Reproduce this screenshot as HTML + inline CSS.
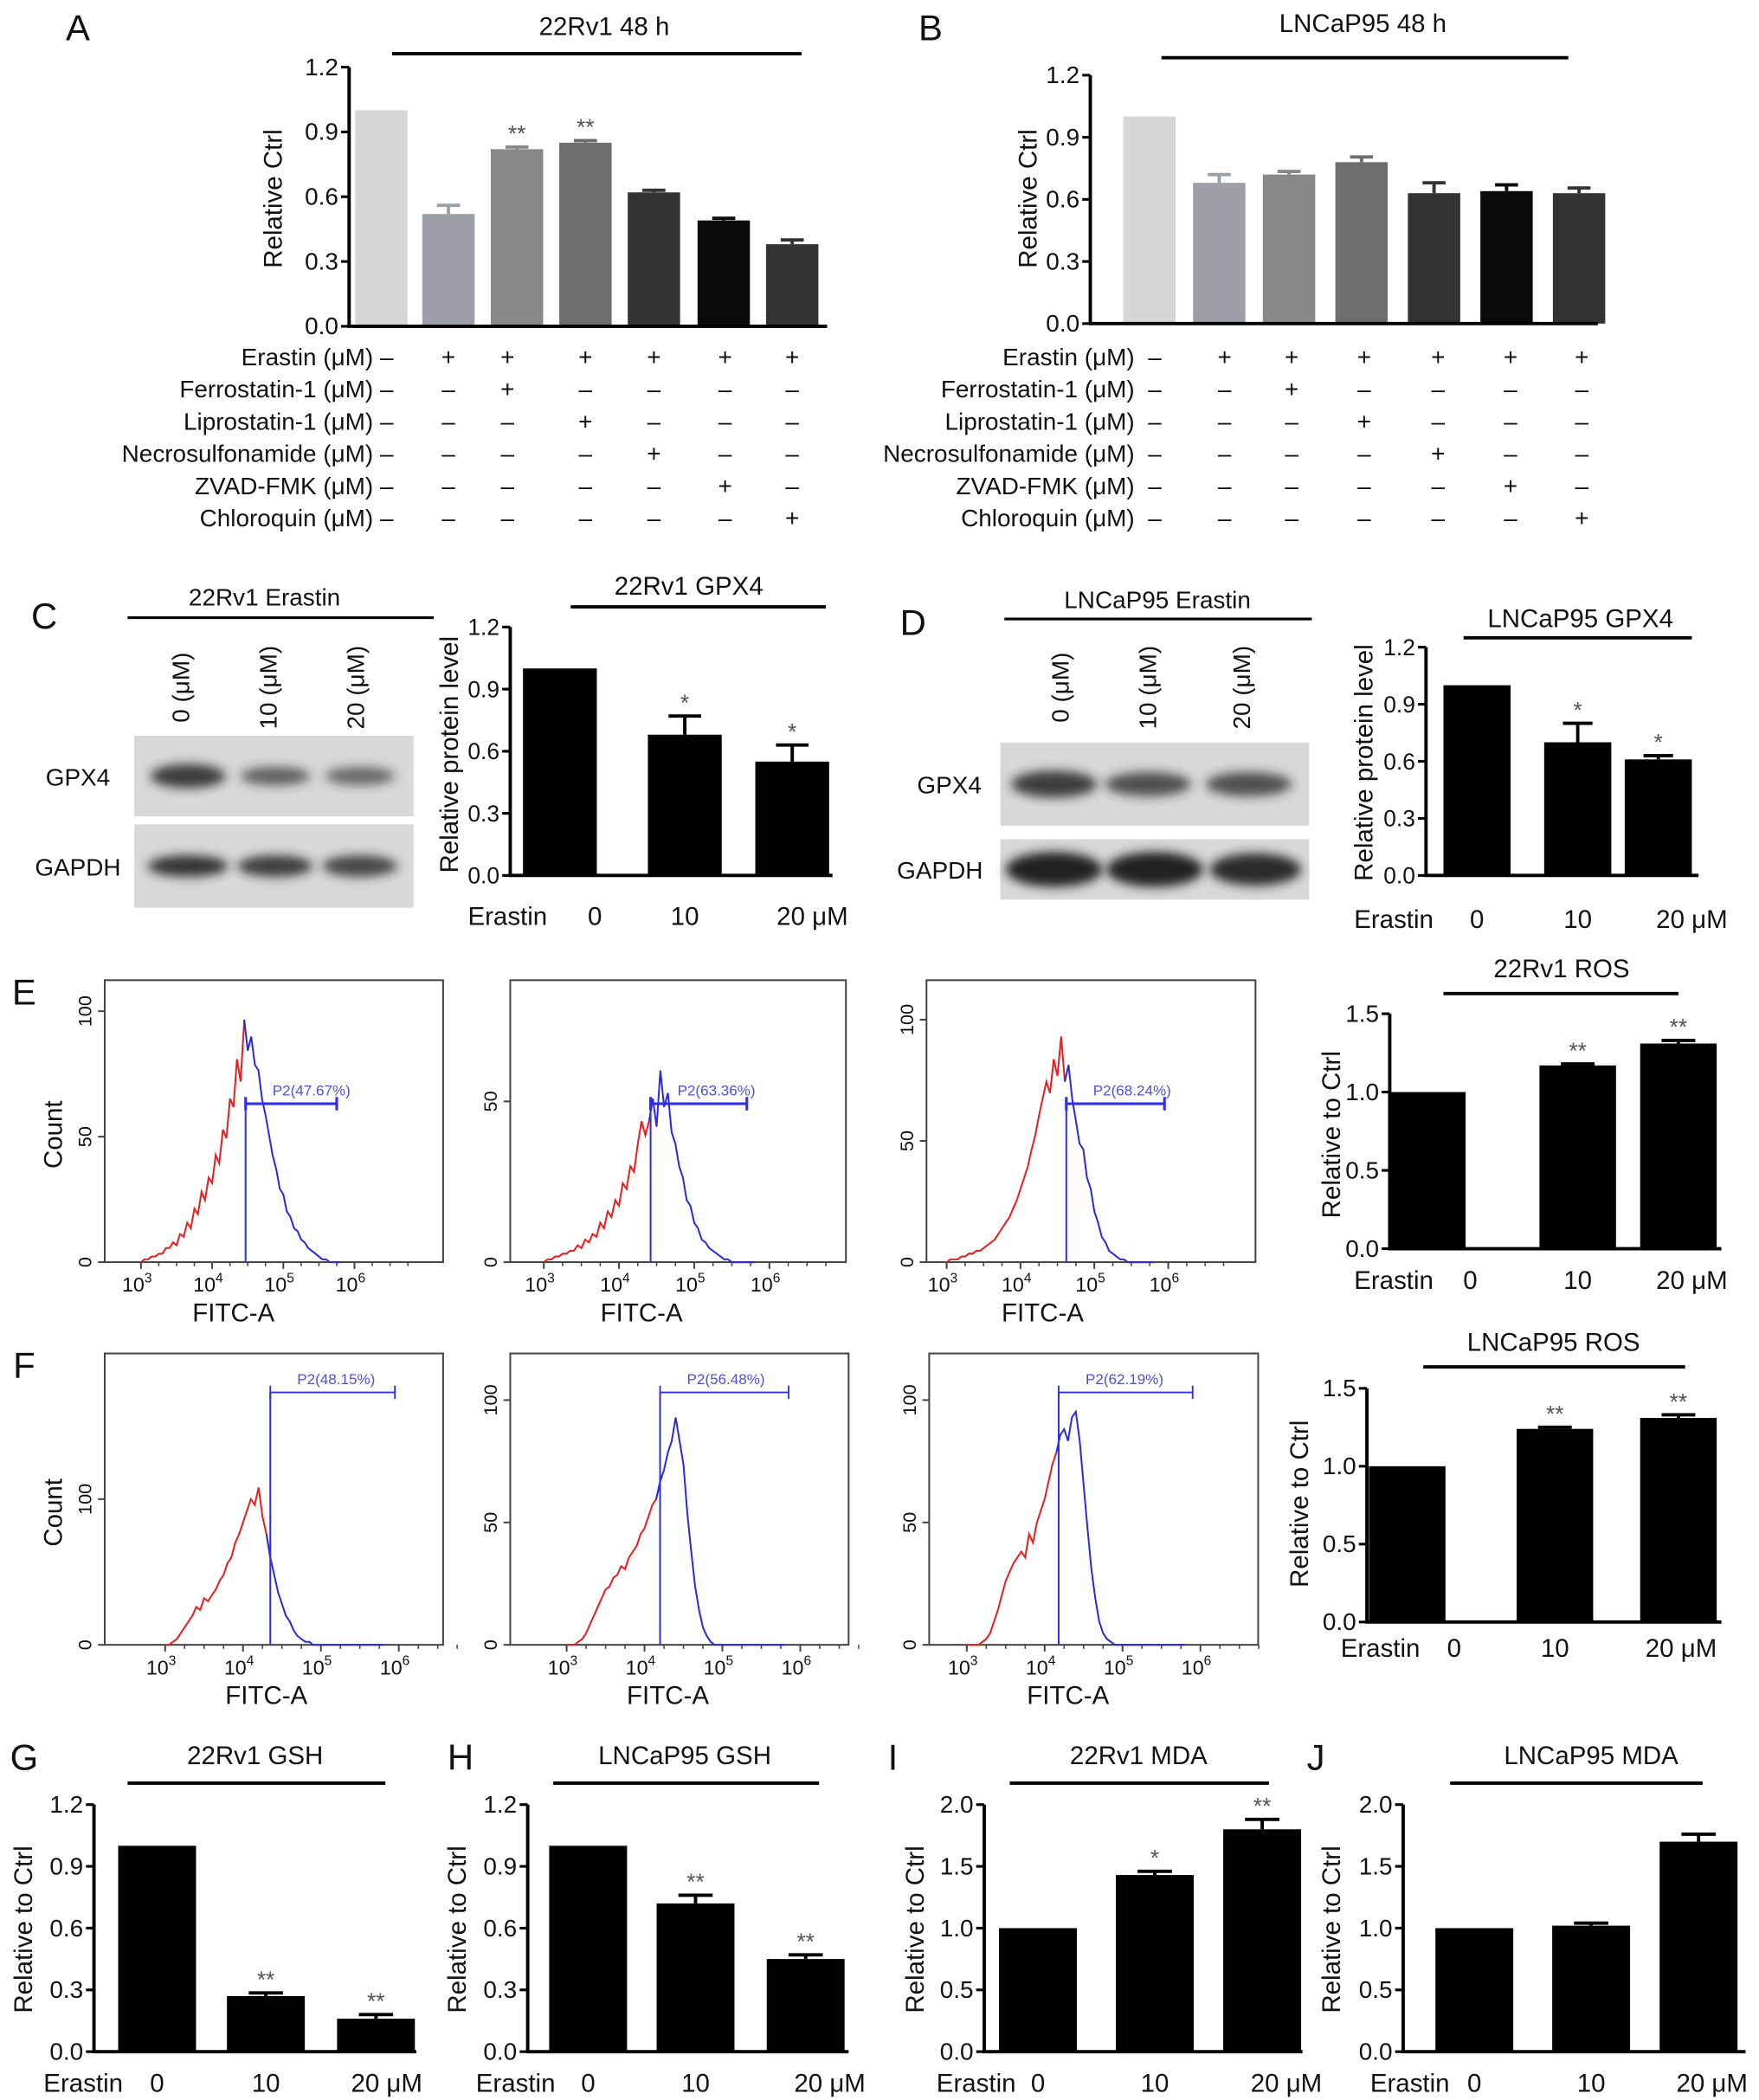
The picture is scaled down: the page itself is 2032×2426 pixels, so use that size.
<!DOCTYPE html>
<html><head><meta charset="utf-8">
<style>
html,body{margin:0;padding:0;background:#fff;}
svg{display:block;font-family:"Liberation Sans",Arial,sans-serif;}
</style></head>
<body>
<svg id="fig" width="2032" height="2426" viewBox="0 0 1310 1564" preserveAspectRatio="none" xmlns="http://www.w3.org/2000/svg">
<defs>
<filter id="blur" x="-20%" y="-50%" width="140%" height="200%"><feGaussianBlur stdDeviation="4"/></filter>
</defs>
<g id="root"></g>
</svg>
<script>
// ===== Panel A data =====
const aValues = [1.0, 0.52, 0.82, 0.85, 0.62, 0.49, 0.38];
const aErrors = [0, 0.04, 0.01, 0.01, 0.01, 0.01, 0.02];
const aStars = ["", "", "**", "**", "", "", ""];
const aTicks = [0, 0.3, 0.6, 0.9, 1.2];
const aTickLabels = ["0.0", "0.3", "0.6", "0.9", "1.2"];
// ===== Panel B data =====
const bValues = [1.0, 0.68, 0.72, 0.78, 0.63, 0.64, 0.63];
const bErrors = [0, 0.04, 0.015, 0.025, 0.05, 0.03, 0.025];
const bStars = ["", "", "", "", "", "", ""];
// treatment table
const treatRows = ["Erastin (μM)", "Ferrostatin-1 (μM)", "Liprostatin-1 (μM)", "Necrosulfonamide (μM)", "ZVAD-FMK (μM)", "Chloroquin (μM)"];
const treatSigns = [
  ["–","+","+","+","+","+","+"],
  ["–","–","+","–","–","–","–"],
  ["–","–","–","+","–","–","–"],
  ["–","–","–","–","+","–","–"],
  ["–","–","–","–","–","+","–"],
  ["–","–","–","–","–","–","+"]
];
// ===== GPX4 =====
const gpxCategories = ["0", "10", "20 μM"];
const cValues = [1.0, 0.68, 0.55];
const cErrors = [0, 0.09, 0.08];
const cStars = ["", "*", "*"];
const dValues = [1.0, 0.70, 0.61];
const dErrors = [0, 0.10, 0.02];
const dStars = ["", "*", "*"];
// ===== ROS =====
const rosTicks = [0, 0.5, 1.0, 1.5];
const rosTickLabels = ["0.0", "0.5", "1.0", "1.5"];
const eValues = [1.0, 1.17, 1.31];
const eErrors = [0, 0.01, 0.02];
const eStars = ["", "**", "**"];
const fValues = [1.0, 1.24, 1.31];
const fErrors = [0, 0.01, 0.02];
const fStars = ["", "**", "**"];
// ===== GSH / MDA =====
const gValues = [1.0, 0.27, 0.16];
const gErrors = [0, 0.015, 0.02];
const gStars = ["", "**", "**"];
const hValues = [1.0, 0.72, 0.45];
const hErrors = [0, 0.04, 0.02];
const hStars = ["", "**", "**"];
const mdaTicks = [0, 0.5, 1.0, 1.5, 2.0];
const mdaTickLabels = ["0.0", "0.5", "1.0", "1.5", "2.0"];
const iValues = [1.0, 1.43, 1.80];
const iErrors = [0, 0.03, 0.08];
const iStars = ["", "*", "**"];
const jValues = [1.0, 1.02, 1.70];
const jErrors = [0, 0.02, 0.06];
const jStars = ["", "", ""];
// ===== Flow histograms (fraction of plot height, bins log10 3.0..5.8 step 0.05) =====
const flowBins = [3.0,3.05,3.1,3.15,3.2,3.25,3.3,3.35,3.4,3.45,3.5,3.55,3.6,3.65,3.7,3.75,3.8,3.85,3.9,3.95,4.0,4.05,4.1,4.15,4.2,4.25,4.3,4.35,4.4,4.45,4.5,4.55,4.6,4.65,4.7,4.75,4.8,4.85,4.9,4.95,5.0,5.05,5.1,5.15,5.2,5.25,5.3,5.35,5.4,5.45,5.5,5.55,5.6,5.65,5.7,5.75,5.8];
const e1Counts = [0,0.01,0.01,0.02,0.02,0.03,0.03,0.05,0.05,0.07,0.06,0.1,0.09,0.14,0.12,0.19,0.17,0.25,0.22,0.3,0.28,0.38,0.35,0.47,0.44,0.58,0.55,0.72,0.64,0.86,0.75,0.8,0.7,0.68,0.58,0.52,0.45,0.38,0.33,0.26,0.24,0.18,0.16,0.12,0.11,0.08,0.07,0.05,0.04,0.03,0.02,0.01,0.01,0,0,0,0];
const e2Counts = [0,0.01,0.01,0.02,0.02,0.03,0.03,0.04,0.04,0.06,0.05,0.08,0.07,0.1,0.09,0.14,0.12,0.18,0.16,0.22,0.2,0.28,0.26,0.34,0.32,0.42,0.5,0.45,0.5,0.58,0.48,0.68,0.55,0.6,0.46,0.42,0.34,0.3,0.22,0.2,0.14,0.12,0.08,0.07,0.05,0.04,0.03,0.02,0.01,0.01,0,0,0,0,0,0,0];
const e3Counts = [0,0.01,0.01,0.01,0.02,0.02,0.03,0.03,0.04,0.04,0.05,0.06,0.07,0.08,0.1,0.12,0.14,0.16,0.19,0.22,0.26,0.3,0.34,0.4,0.45,0.52,0.58,0.64,0.6,0.72,0.66,0.8,0.64,0.7,0.58,0.5,0.42,0.4,0.3,0.26,0.18,0.14,0.09,0.07,0.04,0.03,0.02,0.01,0.01,0,0,0,0,0,0,0,0];
const f1Counts = [0,0,0.01,0.02,0.04,0.06,0.08,0.1,0.13,0.12,0.16,0.15,0.17,0.19,0.22,0.24,0.28,0.3,0.35,0.38,0.42,0.46,0.5,0.48,0.54,0.44,0.38,0.3,0.24,0.18,0.14,0.1,0.08,0.05,0.03,0.02,0.01,0.01,0,0,0,0,0,0,0,0,0,0,0,0,0,0,0,0,0,0,0];
const f2Counts = [0,0,0,0.01,0.02,0.04,0.07,0.1,0.13,0.16,0.19,0.2,0.23,0.24,0.27,0.26,0.3,0.32,0.34,0.38,0.4,0.44,0.48,0.5,0.56,0.6,0.66,0.7,0.78,0.7,0.62,0.45,0.32,0.2,0.12,0.06,0.03,0.01,0,0,0,0,0,0,0,0,0,0,0,0,0,0,0,0,0,0,0];
const f3Counts = [0,0,0,0,0.01,0.02,0.04,0.08,0.12,0.17,0.22,0.25,0.28,0.3,0.32,0.3,0.38,0.35,0.42,0.46,0.5,0.56,0.62,0.66,0.72,0.74,0.7,0.78,0.8,0.7,0.55,0.4,0.26,0.16,0.08,0.04,0.02,0.01,0,0,0,0,0,0,0,0,0,0,0,0,0,0,0,0,0,0,0];

const NS = "http://www.w3.org/2000/svg";
const root = document.getElementById("root");
function mk(tag, attrs, parent){
  const e = document.createElementNS(NS, tag);
  for (const k in attrs) e.setAttribute(k, attrs[k]);
  (parent||root).appendChild(e);
  return e;
}
function txt(s, x, y, size, anchor, parent, extra){
  const t = mk("text", Object.assign({x:x, y:y, "font-size":size, "text-anchor":anchor||"middle", fill:"#111"}, extra||{}), parent);
  t.textContent = s;
  return t;
}
function group(name){
  const g = mk("g", {});
  
  
  return g;
}

function barChart(c){
  const g = group(c.name);
  const yScale = v => c.y0 - (v - c.ticks[0]) / (c.ticks[c.ticks.length-1] - c.ticks[0]) * (c.y0 - c.yTop);
  c.values.forEach((v, i) => {
    const cx = c.centers[i];
    const r = mk("rect", {x:cx - c.bw/2, y:yScale(v), width:c.bw, height:c.y0 - yScale(v), fill:(c.colors ? c.colors[i] : "#000")}, g);
    
    
    const e = c.errors[i];
    if (e > 0) {
      const eb = mk("path", {d:`M${cx} ${yScale(v)} V${yScale(v+e)} M${cx-c.bw*0.22} ${yScale(v+e)} H${cx+c.bw*0.22}`, stroke:(c.colors ? c.colors[i] : "#000"), "stroke-width":2.5, fill:"none"}, g);
      
      
    }
    if (c.stars[i]) {
      const s = txt(c.stars[i], cx, yScale(v+e) - 4, 17, "middle", g, {fill:"#555"});
      
      
    }
  });
  const ax = mk("path", {d:`M${c.x0} ${c.yTop} V${c.y0} H${c.xEnd}`, stroke:"#000", "stroke-width":2.5, fill:"none"}, g);
  
  
  const tf = c.tickFont || 18;
  c.ticks.forEach((t, i) => {
    mk("line", {x1:c.x0-6, x2:c.x0, y1:yScale(t), y2:yScale(t), stroke:"#000", "stroke-width":2}, g);
    const l = txt(c.tickLabels[i], c.x0 - 8, yScale(t) + 6, tf, "end", g);
    
    
  });
  const yl = txt(c.ylabel, 0, 0, 19, "middle", g, {transform:`translate(${c.ylx},${c.yly}) rotate(-90)`});
  
  
  const tt = txt(c.title, c.titleX, c.titleY, 19, "middle", g);
  
  
  mk("line", {x1:c.lineX1, x2:c.lineX2, y1:c.lineY, y2:c.lineY, stroke:"#000", "stroke-width":2.5}, g);
  if (c.cats) {
    const el = txt("Erastin", c.erX, c.xlY, 19, "middle", g);
    
    
    c.cats.forEach((s, i) => {
      const sh = i === 2 ? c.lastShift : (i === 0 ? (c.firstShift || 0) : 0);
      const xl = txt(s, c.centers[i] + sh, c.xlY, 19, "middle", g);
      
      
    });
  }
}

function treatTable(name, rightX, centers, y0){
  const g = group(name);
  treatRows.forEach((r, i) => {
    const l = txt(r, rightX, y0 + i*24, 18, "end", g);
    
    
    treatSigns[i].forEach((s, j) => {
      const st = txt(s, centers[j], y0 + i*24, 18, "middle", g);
      
      
    });
  });
}

function blot(name, x, y, w, h, bands, labels, labX){
  const g = group(name);
  mk("rect", {x:x, y:y, width:w, height:h, fill:"#d8d8d8"}, g);
  bands.forEach(b => {
    mk("ellipse", {cx:b[0], cy:y+h/2, rx:b[1], ry:b[2], fill:"#222", opacity:b[3], filter:"url(#blur)"}, g);
  });
  const l = txt(labels, labX, y + h/2 + 7, 18, "middle", g);
  
  
}

function flow(c){
  const g = group(c.name);
  const xs = v => c.x3 + (v - 3) * c.dec;
  const ys = f => c.yb - f * (c.yb - c.yt);
  mk("rect", {x:c.bx, y:c.yt, width:c.bw, height:c.yb - c.yt, fill:"none", stroke:"#444", "stroke-width":1.3}, g);
  [3,4,5,6].forEach(d => {
    mk("line", {x1:xs(d), x2:xs(d), y1:c.yb, y2:c.yb+5, stroke:"#444", "stroke-width":1.3}, g);
    const t = txt("10", xs(d) - 3, c.yb + 22, 15, "middle", g);
    const sup = mk("tspan", {dy:-7, "font-size":10}, t); sup.textContent = String(d);
    
    
  });
  for (let d = 3; d < 6.9; d += 0.25) mk("line", {x1:xs(d), x2:xs(d), y1:c.yb, y2:c.yb+3, stroke:"#444", "stroke-width":1}, g);
  const xl = txt("FITC-A", xs(4.3), c.yb + 44, 19, "middle", g);
  
  
  c.yticks.forEach(t => {
    mk("line", {x1:c.bx-5, x2:c.bx, y1:ys(t[0]), y2:ys(t[0]), stroke:"#444", "stroke-width":1.3}, g);
    txt(t[1], 0, 0, 14, "middle", g, {transform:`translate(${c.bx-10},${ys(t[0])}) rotate(-90)`});
  });
  if (c.count) {
    const ct = txt("Count", 0, 0, 19, "middle", g, {transform:`translate(${c.bx-32},${(c.yt+c.yb)/2+10}) rotate(-90)`});
    
    
  }
  let red = "", blue = "";
  flowBins.forEach((b, i) => {
    const p = `${xs(b).toFixed(1)} ${ys(c.counts[i]).toFixed(1)}`;
    if (b <= c.gate) red += (red ? " L" : "M") + p;
    if (b >= c.gate - 0.05) blue += (blue ? " L" : "M") + p;
  });
  const rp = mk("path", {d:red, stroke:"#e62020", "stroke-width":1.3, fill:"none"}, g);
  
  
  const bp = mk("path", {d:blue, stroke:"#2a2ae0", "stroke-width":1.3, fill:"none"}, g);
  
  
  const gx = xs(c.gate);
  mk("line", {x1:gx, x2:gx, y1:c.gateY, y2:c.yb, stroke:"#3030e0", "stroke-width":1.3}, g);
  mk("path", {d:`M${gx} ${c.gateY} H${xs(c.gateEnd)} M${gx} ${c.gateY-5} V${c.gateY+5} M${xs(c.gateEnd)} ${c.gateY-5} V${c.gateY+5}`, stroke:"#3030e0", "stroke-width":c.gw, fill:"none"}, g);
  const gl = txt(c.label, gx + 20, c.gateY - 6, 11, "start", g, {fill:"#5050d0"});
  
  
}

[["A",58,30],["B",693,30],["C",33,468],["D",680,473],["E",18,748],["F",18,1026],["G",18,1318],["H",343,1318],["I",665,1318],["J",980,1318]].forEach(p => {
  const t = txt(p[0], p[1], p[2], 27, "middle");
  
  
});

const greys = ["#d6d6d6", "#9e9ea6", "#888888", "#6e6e6e", "#333333", "#0a0a0a", "#333333"];
barChart({name:"chart-a", values:aValues, errors:aErrors, stars:aStars, colors:greys, ticks:aTicks, tickLabels:aTickLabels,
  centers:[284,334,385,436,487,539,590], bw:39, x0:260, xEnd:616, y0:243, yTop:50, ylabel:"Relative Ctrl", ylx:210, yly:148,
  title:"22Rv1 48 h", titleX:450, titleY:26, lineX1:292, lineX2:597, lineY:40});
treatTable("treatment-table-a", 278, [288,334,378,436,487,540,590], 272);

barChart({name:"chart-b", values:bValues, errors:bErrors, stars:bStars, colors:greys, ticks:aTicks, tickLabels:aTickLabels,
  centers:[856,908,960,1014,1068,1122,1176], bw:39, x0:812, xEnd:1190, y0:241, yTop:56, ylabel:"Relative Ctrl", ylx:772, yly:148,
  title:"LNCaP95 48 h", titleX:1015, titleY:24, lineX1:865, lineX2:1168, lineY:43});
treatTable("treatment-table-b", 845, [860,912,962,1016,1071,1125,1178], 272);

(function(){
  const g = group("blot-c-header");
  txt("22Rv1 Erastin", 197, 451, 18, "middle", g);
  mk("line", {x1:95, x2:323, y1:460, y2:460, stroke:"#000", "stroke-width":2}, g);
  [135,200,265].forEach((x,i) => txt(["0 (μM)","10 (μM)","20 (μM)"][i], 0, 0, 18, "middle", g, {transform:`translate(${x+6},${512}) rotate(-90)`}));
  const g2 = group("blot-d-header");
  txt("LNCaP95 Erastin", 862, 453, 18, "middle", g2);
  mk("line", {x1:748, x2:977, y1:461, y2:461, stroke:"#000", "stroke-width":2}, g2);
  [790,855,925].forEach((x,i) => txt(["0 (μM)","10 (μM)","20 (μM)"][i], 0, 0, 18, "middle", g2, {transform:`translate(${x+6},${512}) rotate(-90)`}));
})();
blot("blot-c-gpx4", 100, 548, 208, 60, [[140,28,9,0.85],[205,26,7,0.65],[268,26,7,0.6]], "GPX4", 58);
blot("blot-c-gapdh", 100, 614, 208, 62, [[140,30,8,0.9],[205,28,8,0.85],[268,28,8,0.8]], "GAPDH", 58);
blot("blot-d-gpx4", 745, 553, 230, 62, [[785,32,10,0.85],[855,32,9,0.75],[930,32,9,0.75]], "GPX4", 707);
blot("blot-d-gapdh", 745, 625, 230, 45, [[785,36,13,1],[860,36,13,1],[935,34,12,0.95]], "GAPDH", 700);

barChart({name:"chart-c-gpx4", values:cValues, errors:cErrors, stars:cStars, ticks:aTicks, tickLabels:aTickLabels, tickFont:17,
  centers:[417,510,590], bw:55, x0:380, xEnd:620, y0:652, yTop:467, ylabel:"Relative protein level", ylx:341, yly:562,
  title:"22Rv1 GPX4", titleX:513, titleY:443, lineX1:425, lineX2:615, lineY:452, cats:gpxCategories, erX:378, xlY:689, lastShift:15, firstShift:26});
barChart({name:"chart-d-gpx4", values:dValues, errors:dErrors, stars:dStars, ticks:aTicks, tickLabels:aTickLabels, tickFont:17,
  centers:[1100,1175,1235], bw:50, x0:1062, xEnd:1265, y0:652, yTop:482, ylabel:"Relative protein level", ylx:1022, yly:568,
  title:"LNCaP95 GPX4", titleX:1177, titleY:467, lineX1:1090, lineX2:1260, lineY:475, cats:gpxCategories, erX:1038, xlY:691, lastShift:25});

barChart({name:"chart-e-ros", values:eValues, errors:eErrors, stars:eStars, ticks:rosTicks, tickLabels:rosTickLabels,
  centers:[1063,1175,1250], bw:57, x0:1035, xEnd:1282, y0:930, yTop:755, ylabel:"Relative to Ctrl", ylx:998, yly:845,
  title:"22Rv1 ROS", titleX:1163, titleY:728, lineX1:1075, lineX2:1250, lineY:740, cats:gpxCategories, erX:1038, xlY:960, lastShift:10, firstShift:32});
barChart({name:"chart-f-ros", values:fValues, errors:fErrors, stars:fStars, ticks:rosTicks, tickLabels:rosTickLabels,
  centers:[1048,1158,1250], bw:57, x0:1018, xEnd:1282, y0:1208, yTop:1034, ylabel:"Relative to Ctrl", ylx:974, yly:1120,
  title:"LNCaP95 ROS", titleX:1157, titleY:1006, lineX1:1060, lineX2:1255, lineY:1018, cats:gpxCategories, erX:1028, xlY:1234, lastShift:2, firstShift:35});

barChart({name:"chart-g-gsh", values:gValues, errors:gErrors, stars:gStars, ticks:aTicks, tickLabels:aTickLabels,
  centers:[117,198,280], bw:58, x0:70, xEnd:310, y0:1528, yTop:1344, ylabel:"Relative to Ctrl", ylx:24, yly:1437,
  title:"22Rv1 GSH", titleX:190, titleY:1314, lineX1:95, lineX2:287, lineY:1328, cats:gpxCategories, erX:62, xlY:1558, lastShift:8});
barChart({name:"chart-h-gsh", values:hValues, errors:hErrors, stars:hStars, ticks:aTicks, tickLabels:aTickLabels,
  centers:[438,518,600], bw:58, x0:393, xEnd:632, y0:1528, yTop:1344, ylabel:"Relative to Ctrl", ylx:347, yly:1437,
  title:"LNCaP95 GSH", titleX:510, titleY:1314, lineX1:412, lineX2:610, lineY:1328, cats:gpxCategories, erX:384, xlY:1558, lastShift:18});
barChart({name:"chart-i-mda", values:iValues, errors:iErrors, stars:iStars, ticks:mdaTicks, tickLabels:mdaTickLabels,
  centers:[773,860,940], bw:58, x0:733, xEnd:970, y0:1528, yTop:1344, ylabel:"Relative to Ctrl", ylx:688, yly:1437,
  title:"22Rv1 MDA", titleX:848, titleY:1314, lineX1:752, lineX2:945, lineY:1328, cats:gpxCategories, erX:727, xlY:1558, lastShift:18});
barChart({name:"chart-j-mda", values:jValues, errors:jErrors, stars:jStars, ticks:mdaTicks, tickLabels:mdaTickLabels,
  centers:[1098,1185,1265], bw:58, x0:1045, xEnd:1300, y0:1528, yTop:1344, ylabel:"Relative to Ctrl", ylx:998, yly:1437,
  title:"LNCaP95 MDA", titleX:1185, titleY:1314, lineX1:1080, lineX2:1268, lineY:1328, cats:gpxCategories, erX:1050, xlY:1558, lastShift:10});

flow({name:"flow-e1", bx:78, bw:252, yt:730, yb:940, x3:105, dec:53, counts:e1Counts, gate:4.47, gateEnd:5.75, gateY:822, gw:2, label:"P2(47.67%)", yticks:[[0,"0"],[0.445,"50"],[0.89,"100"]], count:true});
flow({name:"flow-e2", bx:380, bw:250, yt:730, yb:940, x3:405, dec:56, counts:e2Counts, gate:4.42, gateEnd:5.7, gateY:822, gw:2, label:"P2(63.36%)", yticks:[[0,"0"],[0.57,"50"]]});
flow({name:"flow-e3", bx:690, bw:245, yt:730, yb:940, x3:705, dec:55, counts:e3Counts, gate:4.62, gateEnd:5.95, gateY:822, gw:2, label:"P2(68.24%)", yticks:[[0,"0"],[0.43,"50"],[0.86,"100"]]});
flow({name:"flow-f1", bx:78, bw:252, yt:1008, yb:1225, x3:123, dec:58, counts:f1Counts, gate:4.35, gateEnd:5.95, gateY:1037, gw:1.2, label:"P2(48.15%)", yticks:[[0,"0"],[0.5,"100"]], count:true});
flow({name:"flow-f2", bx:380, bw:252, yt:1008, yb:1225, x3:422, dec:58, counts:f2Counts, gate:4.2, gateEnd:5.85, gateY:1037, gw:1.2, label:"P2(56.48%)", yticks:[[0,"0"],[0.42,"50"],[0.84,"100"]]});
flow({name:"flow-f3", bx:692, bw:245, yt:1008, yb:1225, x3:720, dec:58, counts:f3Counts, gate:4.18, gateEnd:5.9, gateY:1037, gw:1.2, label:"P2(62.19%)", yticks:[[0,"0"],[0.42,"50"],[0.84,"100"]]});
</script>
</body></html>
